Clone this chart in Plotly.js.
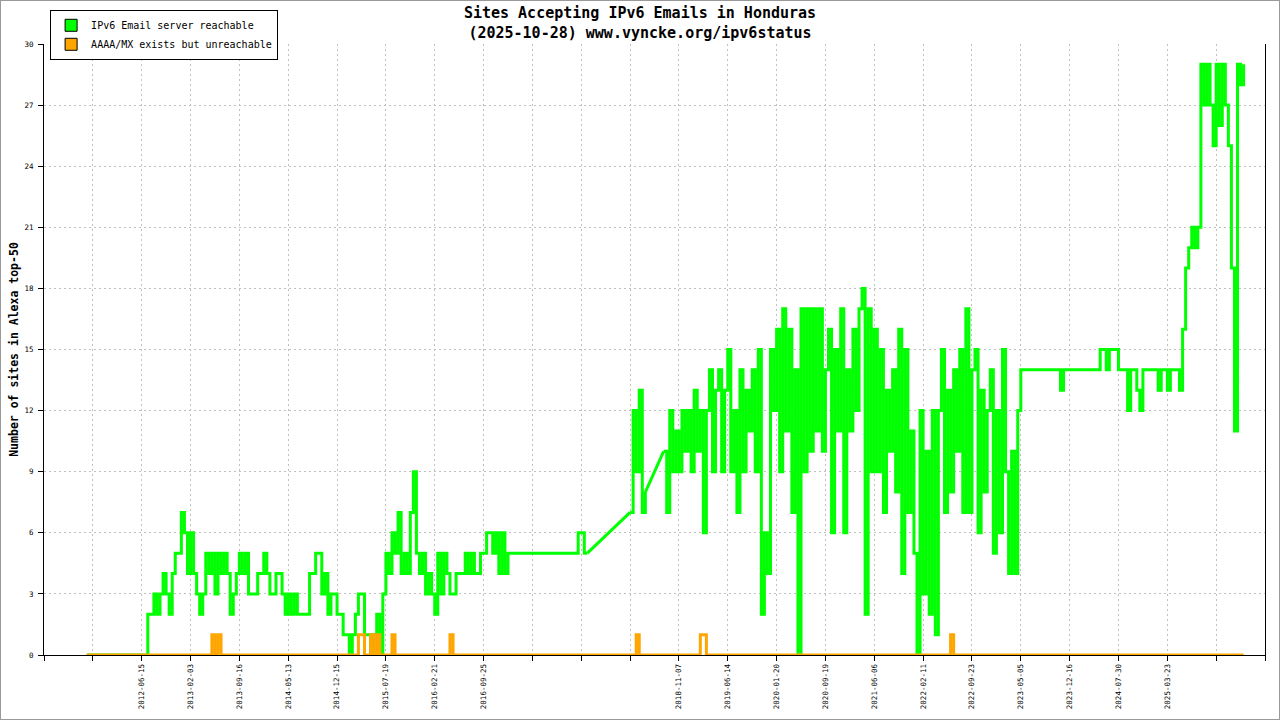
<!DOCTYPE html>
<html>
<head>
<meta charset="utf-8">
<script src="https://cdn.plot.ly/plotly-3.0.1.min.js"></script>
<style>
  body { margin: 0; background: #fff; }
  #wrap { position: relative; width: 1280px; height: 720px; }
  #wrap::after { content: ""; position: absolute; inset: 0; border: 1px solid #999; pointer-events: none; z-index: 10; }
  #chart { width: 1280px; height: 720px; }
</style>
</head>
<body>
<div id="wrap"><div id="chart"></div></div>
<script>
// one sample per x step, the first value sits at sample 14; null = no measurement
const sampleStart = 14;

const tickSamples = [0, 16, 32, 48, 64, 80, 96, 112, 128, 144, 160, 176, 192,
  208, 224, 240, 256, 272, 288, 304, 320, 336, 352, 368, 384, 400];
const tickLabels = ["", "", "2012-06-15", "2013-02-03", "2013-09-16", "2014-05-13",
  "2014-12-15", "2015-07-19", "2016-02-21", "2016-09-25", "", "", "",
  "2018-11-07", "2019-06-14", "2020-01-20", "2020-09-19", "2021-06-06",
  "2022-02-11", "2022-09-23", "2023-05-05", "2023-12-16", "2024-07-30",
  "2025-03-23", "", ""];

const reachable = [
  0, 0,
  0, 0, 0, 0, 0, 0, 0, 0, 0, 0, 0, 0, 0, 0, 0, 0,
  0, 0, 2, 2, 3, 2, 3, 4, 3, 2, 4, 5, 5, 7, 6, 4,
  6, 4, 3, 2, 3, 5, 4, 5, 3, 5, 4, 5, 4, 2, 3, 4,
  5, 4, 5, 3, 3, 3, 4, 4, 5, 4, 3, 3, 4, 4, 3, 2,
  3, 2, 3, 2, 2, 2, 2, 4, 4, 5, 5, 3, 4, 2, 3, 3,
  2, 2, 1, 1, 0, 1, 2, 3, 3, 1, 1, 0, 1, 2, 0, 3,
  5, 4, 6, 5, 7, 4, 5, 4, 7, 9, 5, 4, 5, 3, 4, 3,
  2, 5, 3, 5, 4, 3, 3, 4, 4, 4, 5, 4, 5, 4, 4, 5,
  5, 6, 6, 5, 6, 4, 6, 4, 5, 5, 5, 5, 5, 5, 5, 5,
  5, 5, 5, 5, 5, 5, 5, 5, 5, 5, 5, 5, 5, 5, 5, 6,
  6, 5, 5, null, null, null, null, null, null, null, null, null, null, null, null, null,
  7, 12, 9, 13, 7, 8, null, null, null, null, null, 10, 7, 12, 9, 11,
  9, 12, 10, 12, 9, 13, 10, 12, 6, 12, 14, 9, 13, 14, 9, 13,
  15, 9, 12, 7, 14, 9, 13, 11, 14, 9, 15, 2, 6, 4, 15, 12,
  16, 9, 17, 11, 16, 7, 14, 0, 17, 9, 17, 10, 17, 11, 17, 10,
  14, 16, 6, 15, 11, 17, 6, 14, 11, 16, 12, 17, 18, 2, 17, 9,
  16, 9, 15, 7, 13, 10, 14, 8, 16, 4, 15, 7, 11, 5, 0, 12,
  3, 10, 2, 12, 1, 12, 15, 7, 13, 8, 14, 10, 15, 7, 17, 7,
  14, 15, 6, 13, 8, 12, 14, 5, 12, 6, 15, 9, 4, 10, 4, 12,
  14, 14, 14, 14, 14, 14, 14, 14, 14, 14, 14, 14, 14, 13, 14, 14,
  14, 14, 14, 14, 14, 14, 14, 14, 14, 14, 15, 15, 14, 15, 15, 15,
  14, 14, 14, 12, 14, 14, 13, 12, 14, 14, 14, 14, 14, 13, 14, 14,
  13, 14, 14, 14, 13, 16, 19, 20, 21, 20, 21, 29, 27, 29, 27, 25,
  29, 26, 29, 27, 25, 19, 11, 29, 28, 29
];

const unreachable = [
  0, 0,
  0, 0, 0, 0, 0, 0, 0, 0, 0, 0, 0, 0, 0, 0, 0, 0,
  0, 0, 0, 0, 0, 0, 0, 0, 0, 0, 0, 0, 0, 0, 0, 0,
  0, 0, 0, 0, 0, 0, 0, 1, 0, 1, 0, 0, 0, 0, 0, 0,
  0, 0, 0, 0, 0, 0, 0, 0, 0, 0, 0, 0, 0, 0, 0, 0,
  0, 0, 0, 0, 0, 0, 0, 0, 0, 0, 0, 0, 0, 0, 0, 0,
  0, 0, 0, 0, 0, 0, 0, 1, 1, 0, 0, 1, 0, 1, 0, 0,
  0, 0, 1, 0, 0, 0, 0, 0, 0, 0, 0, 0, 0, 0, 0, 0,
  0, 0, 0, 0, 0, 1, 0, 0, 0, 0, 0, 0, 0, 0, 0, 0,
  0, 0, 0, 0, 0, 0, 0, 0, 0, 0, 0, 0, 0, 0, 0, 0,
  0, 0, 0, 0, 0, 0, 0, 0, 0, 0, 0, 0, 0, 0, 0, 0,
  0, 0, 0, null, null, null, null, null, null, null, null, null, null, null, null, null,
  0, 0, 1, 0, 0, 0, null, null, null, null, null, 0, 0, 0, 0, 0,
  0, 0, 0, 0, 0, 0, 0, 1, 1, 0, 0, 0, 0, 0, 0, 0,
  0, 0, 0, 0, 0, 0, 0, 0, 0, 0, 0, 0, 0, 0, 0, 0,
  0, 0, 0, 0, 0, 0, 0, 0, 0, 0, 0, 0, 0, 0, 0, 0,
  0, 0, 0, 0, 0, 0, 0, 0, 0, 0, 0, 0, 0, 0, 0, 0,
  0, 0, 0, 0, 0, 0, 0, 0, 0, 0, 0, 0, 0, 0, 0, 0,
  0, 0, 0, 0, 0, 0, 0, 0, 0, 1, 0, 0, 0, 0, 0, 0,
  0, 0, 0, 0, 0, 0, 0, 0, 0, 0, 0, 0, 0, 0, 0, 0,
  0, 0, 0, 0, 0, 0, 0, 0, 0, 0, 0, 0, 0, 0, 0, 0,
  0, 0, 0, 0, 0, 0, 0, 0, 0, 0, 0, 0, 0, 0, 0, 0,
  0, 0, 0, 0, 0, 0, 0, 0, 0, 0, 0, 0, 0, 0, 0, 0,
  0, 0, 0, 0, 0, 0, 0, 0, 0, 0, 0, 0, 0, 0, 0, 0,
  0, 0, 0, 0, 0, 0, 0, 0, 0, 0
];

const samples = reachable.map((_, i) => sampleStart + i);

// straight joins across runs of missing samples, as the original plot draws them
function gapJoins(values) {
  const xs = [], ys = [];
  let last = -1;
  values.forEach((v, i) => {
    if (v === null) return;
    if (last >= 0 && i - last > 1) {
      xs.push(samples[last], samples[i], null);
      ys.push(values[last], v, null);
    }
    last = i;
  });
  return { x: xs, y: ys };
}
const greenJoins = gapJoins(reachable);

const mono = "DejaVu Sans Mono, Liberation Mono, monospace";
const green = "#00ff00";
const orange = "#ffa500";
const grid = { showgrid: true, gridcolor: "#c0c0c0", griddash: "2px,3px", gridwidth: 1 };

const traces = [
  {
    x: greenJoins.x, y: greenJoins.y, type: "scatter", mode: "lines",
    line: { color: green, width: 3 }, connectgaps: false, showlegend: false,
  },
  {
    x: samples, y: reachable, type: "scatter", mode: "lines",
    line: { color: green, width: 3, shape: "hv" }, connectgaps: false, showlegend: false,
  },
  {
    x: samples, y: unreachable, type: "scatter", mode: "lines",
    line: { color: orange, width: 3, shape: "hv" }, connectgaps: true, showlegend: false,
  },
  // legend swatches only (a single empty value, nothing is drawn)
  { x: [null], y: [null], type: "bar", name: "IPv6 Email server reachable",
    marker: { color: green, line: { color: "#000", width: 1 } } },
  { x: [null], y: [null], type: "bar", name: "AAAA/MX exists but unreachable",
    marker: { color: orange, line: { color: "#000", width: 1 } } },
];

const layout = {
  width: 1280, height: 720,
  margin: { l: 44, r: 15, t: 44, b: 65, autoexpand: false },
  paper_bgcolor: "#fff", plot_bgcolor: "#fff",
  font: { family: mono, color: "#000" },
  title: {
    text: "Sites Accepting IPv6 Emails in Honduras<br>(2025-10-28) www.vyncke.org/ipv6status",
    font: { family: mono, size: 15, weight: "bold", color: "#000" },
    x: 0.5, xref: "container", y: 0.975, yref: "container", yanchor: "top",
  },
  xaxis: Object.assign({
    range: [0, 400], tickmode: "array", tickvals: tickSamples, ticktext: tickLabels,
    tickangle: -90, tickfont: { size: 7.5 },
    showline: true, linecolor: "#000", linewidth: 1,
    ticks: "outside", ticklen: 5, tickcolor: "#000",
    zeroline: false, layer: "below traces", fixedrange: true,
  }, grid),
  yaxis: Object.assign({
    range: [0, 30], dtick: 3, tick0: 0, tickfont: { size: 7.5 },
    showline: true, mirror: true, linecolor: "#000", linewidth: 1,
    ticks: "outside", ticklen: 5, tickcolor: "#000", ticklabelstandoff: 3,
    zeroline: false, layer: "below traces", fixedrange: true,
    title: {
      text: "Number of sites in Alexa top-50",
      font: { family: mono, size: 11.5, weight: "bold", color: "#000" },
      standoff: 3,
    },
  }, grid),
  legend: {
    x: 0.005, y: 1.056, xanchor: "left", yanchor: "top",
    bgcolor: "#fff", bordercolor: "#000", borderwidth: 1,
    font: { family: mono, size: 10, color: "#000" },
    tracegroupgap: 0, itemwidth: 30,
  },
  showlegend: true,
};

Plotly.newPlot("chart", traces, layout, { staticPlot: true });
</script>
</body>
</html>
